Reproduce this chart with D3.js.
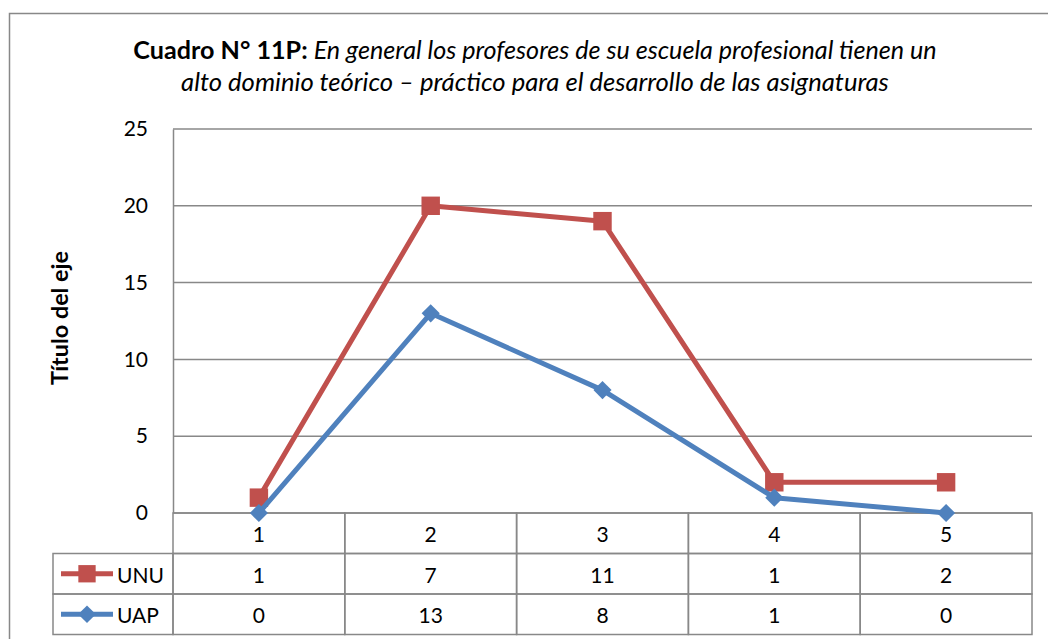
<!DOCTYPE html>
<html lang="es">
<head>
<meta charset="UTF-8">
<title>Cuadro N° 11P</title>
<script src="https://cdn.jsdelivr.net/npm/d3@7"></script>
<style>
  body { margin: 0; background: #fff; }
  svg text { font-family: Lato, "Open Sans", sans-serif; fill: #000; }
</style>
</head>
<body>
<div id="box"></div>
<script>
// datos del cuadro
var categorias = ["1", "2", "3", "4", "5"];
var unu = [1, 7, 11, 1, 2];
var uap = [0, 13, 8, 1, 0];
var yTicks = [0, 5, 10, 15, 20, 25];

var width = 1048, height = 639;
var plotLeft = 173, plotRight = 1032, plotTop = 129, plotBottom = 513;
var rowH = 40.5;

var svg = d3.select("#box").append("svg")
    .attr("width", width)
    .attr("height", height);

// ajusta el tamaño de letra para que el texto ocupe un ancho dado
function ajustar(sel, ancho) {
  var fs = +sel.attr("font-size");
  var w = sel.node().getComputedTextLength();
  if (w > 0) sel.attr("font-size", fs * ancho / w);
}

// marco exterior
svg.append("rect")
    .attr("x", 9.5).attr("y", 13.5)
    .attr("width", 1060).attr("height", 700)
    .attr("fill", "none").attr("stroke", "#888").attr("stroke-width", 1.5);

// titulo
var t = svg.append("text").attr("text-anchor", "middle").attr("font-size", 24)
    .attr("x", 535).attr("y", 59);
t.append("tspan").attr("font-weight", "bold").text("Cuadro N° 11P: ");
t.append("tspan").attr("font-style", "italic")
    .text("En general los profesores de su escuela profesional tienen un");
ajustar(t, 804);
var t2 = svg.append("text").attr("text-anchor", "middle").attr("font-size", 24)
    .attr("font-style", "italic")
    .attr("x", 535).attr("y", 91)
    .text("alto dominio teórico – práctico para el desarrollo de las asignaturas");
ajustar(t2, 708);

var x = d3.scaleBand().domain(categorias).range([plotLeft, plotRight]);
var y = d3.scaleLinear().domain([0, 25]).range([plotBottom, plotTop]);

// rejilla
svg.append("g").selectAll("line").data(yTicks).enter().append("line")
    .attr("x1", plotLeft).attr("x2", plotRight)
    .attr("y1", d => y(d)).attr("y2", d => y(d))
    .attr("stroke", "#888").attr("stroke-width", 1.5);

// eje y
var yAxis = d3.axisLeft(y).tickValues(yTicks).tickSize(0).tickPadding(25);
var gy = svg.append("g").attr("transform", "translate(" + plotLeft + ",0)").call(yAxis);
gy.select(".domain").attr("stroke", "#888").attr("stroke-width", 1.5);
gy.selectAll("text").attr("font-size", 21).style("font-family", "Lato, sans-serif");

var tituloY = svg.append("text")
    .attr("transform", "translate(68,318) rotate(-90)")
    .attr("text-anchor", "middle")
    .attr("font-size", 20).attr("font-weight", "bold")
    .text("Título del eje");
ajustar(tituloY, 134);

// tabla de datos
var tabla = svg.append("g");
var tableLeft = 53;
var filas = [
  { nombre: "UNU", valores: unu, color: "#C0504D", marca: "square" },
  { nombre: "UAP", valores: uap, color: "#4F81BD", marca: "diamond" }
];
var bordes = "#888";
// fila de categorias
categorias.forEach(function(c) {
  tabla.append("rect")
    .attr("x", x(c)).attr("y", plotBottom)
    .attr("width", x.bandwidth()).attr("height", rowH)
    .attr("fill", "none").attr("stroke", bordes).attr("stroke-width", 1.5);
  tabla.append("text").attr("x", x(c) + x.bandwidth() / 2).attr("y", plotBottom + 29)
    .attr("text-anchor", "middle").attr("font-size", 21).text(c);
});
filas.forEach(function(f, i) {
  var yy = plotBottom + rowH * (i + 1);
  tabla.append("rect")
    .attr("x", tableLeft).attr("y", yy)
    .attr("width", plotLeft - tableLeft).attr("height", rowH)
    .attr("fill", "none").attr("stroke", bordes).attr("stroke-width", 1.5);
  tabla.append("line")
    .attr("x1", 61).attr("x2", 113).attr("y1", yy + rowH / 2).attr("y2", yy + rowH / 2)
    .attr("stroke", f.color).attr("stroke-width", 5);
  tabla.append("path")
    .attr("transform", "translate(87," + (yy + rowH / 2) + ")")
    .attr("d", d3.symbol().type(f.marca === "square" ? d3.symbolSquare : d3.symbolDiamond2)
      .size(f.marca === "square" ? 300 : 200)())
    .attr("fill", f.color);
  tabla.append("text").attr("x", 117).attr("y", yy + 29)
    .attr("font-size", 21).text(f.nombre);
  categorias.forEach(function(c, j) {
    tabla.append("rect")
      .attr("x", x(c)).attr("y", yy)
      .attr("width", x.bandwidth()).attr("height", rowH)
      .attr("fill", "none").attr("stroke", bordes).attr("stroke-width", 1.5);
    tabla.append("text").attr("x", x(c) + x.bandwidth() / 2).attr("y", yy + 29)
      .attr("text-anchor", "middle").attr("font-size", 21).text(f.valores[j]);
  });
});

// lineas apiladas
var apilado = d3.stack().keys(["uap", "unu"])(categorias.map(function(c, i) {
  return { cat: c, uap: uap[i], unu: unu[i] };
}));
var linea = d3.line()
    .x(d => x(d.data.cat) + x.bandwidth() / 2)
    .y(d => y(d[1]));
var estilos = { uap: { color: "#4F81BD", sym: d3.symbolDiamond2, size: 210 },
                unu: { color: "#C0504D", sym: d3.symbolSquare, size: 340 } };
// UNU primero, UAP encima
[apilado[1], apilado[0]].forEach(function(s) {
  var e = estilos[s.key];
  svg.append("path").datum(s)
    .attr("d", linea).attr("fill", "none")
    .attr("stroke", e.color).attr("stroke-width", 5)
    .attr("stroke-linejoin", "round");
  svg.append("g").selectAll("path").data(s).enter().append("path")
    .attr("transform", d => "translate(" + (x(d.data.cat) + x.bandwidth() / 2) + "," + y(d[1]) + ")")
    .attr("d", d3.symbol().type(e.sym).size(e.size)())
    .attr("fill", e.color);
});
</script>
</body>
</html>
